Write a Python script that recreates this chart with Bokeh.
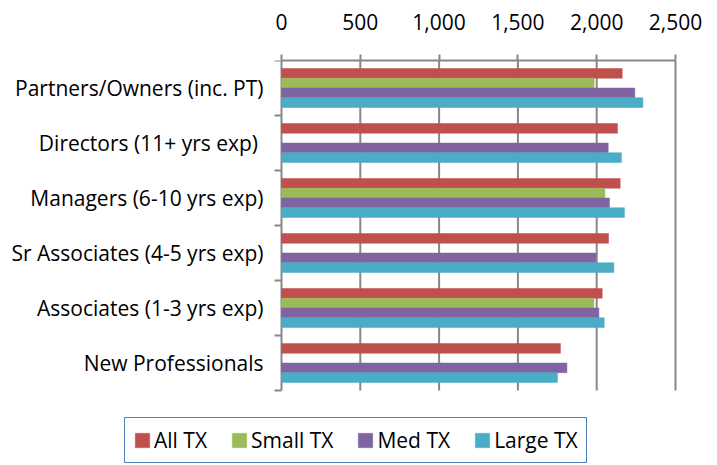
import numpy as np
from bokeh.plotting import figure
from bokeh.core.properties import value
from bokeh.models import (Range1d, FixedTicker, NumeralTickFormatter, Legend,
                          LegendItem, ColumnDataSource)
from bokeh.embed import file_html
from bokeh.resources import INLINE

# ---- data (top-to-bottom order as shown) ----
categories = ["Partners/Owners (inc. PT)", "Directors (11+ yrs exp) ",
              "Managers (6-10 yrs exp)", "Sr Associates (4-5 yrs exp)",
              "Associates (1-3 yrs exp)", "New Professionals"]
series_names = ["All TX", "Small TX", "Med TX", "Large TX"]
all_tx = [2162, 2132, 2149, 2075, 2035, 1770]
small_tx = [1984, None, 2052, None, 1982, None]
med_tx = [2242, 2073, 2081, 1995, 2014, 1811]
large_tx = [2293, 2157, 2176, 2109, 2048, 1751]
x_ticks = [0, 500, 1000, 1500, 2000, 2500]
colors = ["#C0504D", "#9BBB59", "#8064A2", "#4BACC6"]

# ---- layout constants (pixels) ----
W, H = 717, 465
PLOT_L, PLOT_R, PLOT_T, PLOT_B = 281, 675, 60, 390
FONT = "Open Sans"
FS = "21px"
GRAY = "#878787"

n = len(categories)
xmax = x_ticks[-1]
sx = (PLOT_R - PLOT_L) / xmax            # px per unit
sy = (PLOT_B - PLOT_T) / n               # px per category
x_range = Range1d(-PLOT_L / sx, xmax + (W - PLOT_R) / sx)
y_range = Range1d(-(H - PLOT_B) / sy, n)

centers = [n - i - 0.5 for i in range(n)]
bounds = list(range(n + 1))
bar_h = 0.177
offsets = [1.5, 0.5, -0.5, -1.5]

p = figure(width=W, height=H, output_backend="svg", toolbar_location=None,
           x_range=x_range, y_range=y_range,
           x_axis_location="above", y_axis_location=None,
           min_border_left=0, min_border_right=0,
           min_border_top=PLOT_T, min_border_bottom=0)
p.outline_line_color = None
p.grid.visible = False

# vertical gridlines (value grid)
p.segment(x0=x_ticks, x1=x_ticks, y0=[0] * len(x_ticks), y1=[n] * len(x_ticks),
          line_color=GRAY, line_width=2)
# category boundary ticks on the left axis
tick_len = 7 / sx
p.segment(x0=[-tick_len] * len(bounds), x1=[0] * len(bounds), y0=bounds, y1=bounds,
          line_color=GRAY, line_width=2)

renderers = []
for name, vals, col, off in zip(series_names, [all_tx, small_tx, med_tx, large_tx], colors, offsets):
    ys, xs = [], []
    for c, v in zip(centers, vals):
        if v is not None:
            ys.append(c + off * bar_h)
            xs.append(v)
    src = ColumnDataSource(dict(y=ys, right=xs))
    r = p.hbar(y="y", left=0, right="right", height=bar_h, source=src,
               fill_color=col, line_color=col, line_width=0.5)
    renderers.append(r)

# category labels
p.text(x=[0] * n, y=centers, text=categories, x_offset=-18,
       text_align="right", text_baseline="middle",
       text_font=value(FONT), text_font_size=FS, text_color="black")

# top axis
p.xaxis.bounds = (0, xmax)
p.xaxis.ticker = FixedTicker(ticks=x_ticks)
p.xaxis.formatter = NumeralTickFormatter(format="0,0")
p.xaxis.major_tick_out = 6
p.xaxis.major_tick_in = 0
p.xaxis.minor_tick_line_color = None
p.xaxis.axis_line_color = GRAY
p.xaxis.axis_line_width = 2
p.xaxis.major_tick_line_color = GRAY
p.xaxis.major_tick_line_width = 2
p.xaxis.major_label_text_font = FONT
p.xaxis.major_label_text_font_size = FS
p.xaxis.major_label_text_color = "black"
p.xaxis.major_label_standoff = 25

legend = Legend(items=[LegendItem(label=nm, renderers=[r]) for nm, r in zip(series_names, renderers)],
                orientation="horizontal", location=(124, 2),
                border_line_color="#4F81BD", border_line_width=1.5, border_line_alpha=1,
                background_fill_color="white", background_fill_alpha=1,
                padding=8, spacing=23, margin=0, label_height=20,
                glyph_width=18, glyph_height=18, label_standoff=3,
                label_text_font=FONT, label_text_font_size=FS,
                label_text_color="black")
p.add_layout(legend)

open("out.html", "w").write(file_html(p, INLINE))
